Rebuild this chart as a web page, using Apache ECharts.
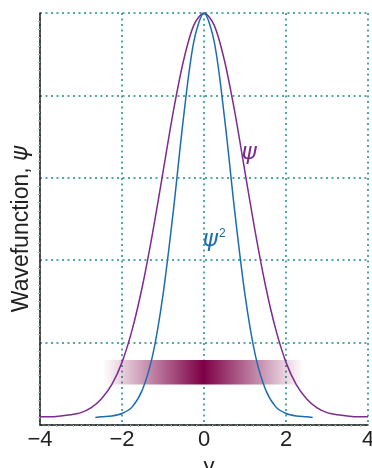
<!DOCTYPE html>
<html>
<head>
<meta charset="utf-8">
<script src="https://cdn.jsdelivr.net/npm/echarts@6/dist/echarts.min.js"></script>
<style>html,body{margin:0;padding:0;background:#fff;}#c{width:372px;height:468px;}</style>
</head>
<body>
<div id="c"></div>
<script>
// x positions (y coordinate) and curve values
const psiX = [-4, -3.75, -3.5, -3.25, -3, -2.75, -2.5, -2.25, -2, -1.75, -1.5, -1.25, -1, -0.75, -0.5, -0.25, 0,
              0.25, 0.5, 0.75, 1, 1.25, 1.5, 1.75, 2, 2.25, 2.5, 2.75, 3, 3.25, 3.5, 3.75, 4];
const psiY = [0.10, 0.10, 0.11, 0.125, 0.15, 0.21, 0.32, 0.49, 0.76, 1.16, 1.69, 2.34, 3.07, 3.80, 4.42, 4.85, 5.0,
              4.85, 4.42, 3.80, 3.07, 2.34, 1.69, 1.16, 0.76, 0.49, 0.32, 0.21, 0.15, 0.125, 0.11, 0.10, 0.10];
const psi2X = [-2.65, -2.5, -2.25, -2, -1.75, -1.5, -1.25, -1, -0.75, -0.5, -0.25, 0,
               0.25, 0.5, 0.75, 1, 1.25, 1.5, 1.75, 2, 2.25, 2.5, 2.65];
const psi2Y = [0.09, 0.10, 0.11, 0.14, 0.22, 0.43, 0.85, 1.58, 2.59, 3.73, 4.65, 5.0,
               4.65, 3.73, 2.59, 1.58, 0.85, 0.43, 0.22, 0.14, 0.11, 0.10, 0.09];
// probability band (x range, y range)
const bandX = [-2.45, 2.42];
const bandY = [0.49, 0.79];
const xTicks = [-4, -2, 0, 2, 4];
const labelPsi = [1.1, 3.3];
const labelPsi2 = [0.25, 2.25];

const purple = '#7b2c8c';
const blue = '#1c6db0';
const gridColor = '#1b8a86';

const chart = echarts.init(document.getElementById('c'));
const zip = (a, b) => a.map((v, i) => [v, b[i]]);

chart.setOption({
  animation: false,
  grid: { left: 40, right: 4, top: 13, bottom: 43, containLabel: false, outerBoundsMode: 'none' },
  xAxis: {
    type: 'value', min: -4, max: 4, interval: 2,
    axisLine: { show: true, onZero: false, lineStyle: { color: '#222', width: 1.5 } },
    axisTick: { show: false },
    minorTick: { show: true, splitNumber: 10, length: 2, lineStyle: { color: '#bbb' } },
    axisLabel: {
      fontSize: 22, color: '#222', fontFamily: 'Liberation Sans', margin: 4,
      formatter: v => (v < 0 ? '\u2212' + Math.abs(v) : String(v))
    },
    splitLine: { show: true, lineStyle: { color: gridColor, type: [2, 3.5], width: 1.5 } },
    name: 'y', nameLocation: 'middle', nameGap: 26,
    nameTextStyle: { fontSize: 22, color: '#222', fontFamily: 'Liberation Sans', padding: [0, 0, 0, 10] }
  },
  yAxis: {
    type: 'value', min: 0, max: 5, interval: 1,
    axisLine: { show: true, onZero: false, lineStyle: { color: '#222', width: 1.5 } },
    axisTick: { show: false },
    minorTick: { show: true, splitNumber: 10, length: 2, lineStyle: { color: '#bbb' } },
    axisLabel: { show: false },
    splitLine: { show: true, lineStyle: { color: gridColor, type: [2, 3.5], width: 1.5 } },
    name: '{n|Wavefunction, }{p|\u03c8}', nameLocation: 'middle', nameGap: 7,
    nameTextStyle: {
      padding: [0, 20, 0, 0],
      rich: {
        n: { fontSize: 23, color: '#222', fontFamily: 'Liberation Sans' },
        p: { fontSize: 23, color: '#222', fontFamily: 'DejaVu Sans', fontStyle: 'italic' }
      }
    }
  },
  series: [
    {
      type: 'custom', z: 1, silent: true,
      data: [[bandX[0], bandY[0], bandX[1], bandY[1]]],
      renderItem: (params, api) => {
        const p0 = api.coord([api.value(0), api.value(3)]);
        const p1 = api.coord([api.value(2), api.value(1)]);
        return {
          type: 'rect',
          shape: { x: p0[0], y: p0[1], width: p1[0] - p0[0], height: p1[1] - p0[1] },
          style: {
            fill: new echarts.graphic.LinearGradient(0, 0, 1, 0, [
              { offset: 0, color: 'rgba(125,0,70,0)' },
              { offset: 0.5, color: 'rgba(125,0,70,1)' },
              { offset: 1, color: 'rgba(125,0,70,0)' }
            ])
          }
        };
      }
    },
    {
      name: 'psi', type: 'line', z: 3, data: zip(psiX, psiY), smooth: 0.3, symbol: 'none',
      lineStyle: { color: purple, width: 1.5 },
      markPoint: {
        symbol: 'circle', symbolSize: 0,
        data: [{ coord: labelPsi, value: '\u03c8' }],
        label: { show: true, formatter: '\u03c8', color: purple, fontSize: 23, fontStyle: 'italic', fontFamily: 'DejaVu Sans', position: 'inside' }
      }
    },
    {
      name: 'psi2', type: 'line', z: 3, data: zip(psi2X, psi2Y), smooth: 0.3, symbol: 'none',
      lineStyle: { color: blue, width: 1.5 },
      markPoint: {
        symbol: 'circle', symbolSize: 0,
        data: [{ coord: labelPsi2, value: 'psi2' }],
        label: {
          show: true, position: 'inside', formatter: '{a|\u03c8}{b|2}',
          rich: {
            a: { color: blue, fontSize: 23, fontStyle: 'italic', fontFamily: 'DejaVu Sans' },
            b: { color: blue, fontSize: 12, fontFamily: 'Liberation Sans', verticalAlign: 'top', padding: [0, 0, 10, 1] }
          }
        }
      }
    }
  ]
});
</script>
</body>
</html>
